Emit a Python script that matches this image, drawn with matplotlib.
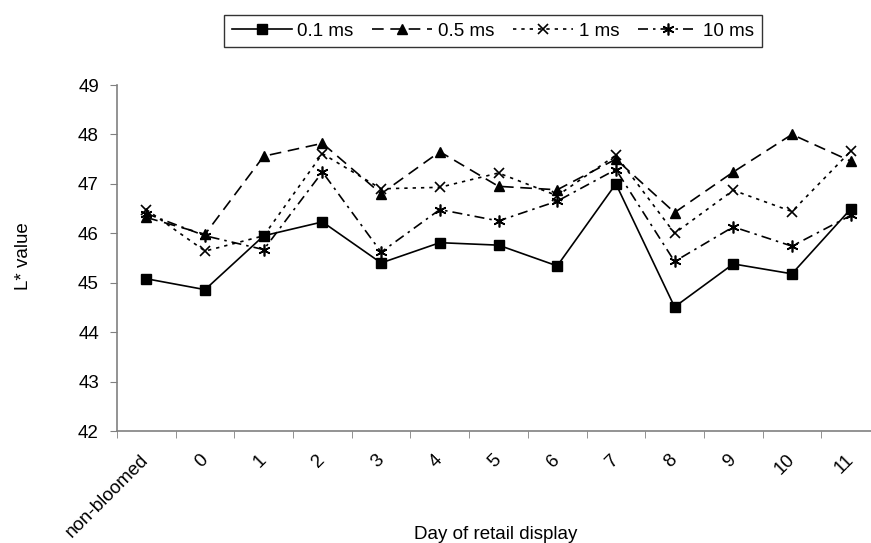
import numpy as np
import matplotlib.pyplot as plt
from matplotlib.transforms import ScaledTranslation

plt.rcParams['font.family'] = ['Liberation Sans', 'DejaVu Sans']

# categories on the x axis
days = ['non-bloomed', '0', '1', '2', '3', '4', '5', '6', '7', '8', '9', '10', '11']

# L* values
ms01 = [45.08, 44.86, 45.95, 46.23, 45.40, 45.81, 45.76, 45.34, 47.00, 44.51, 45.38, 45.18, 46.49]
ms05 = [46.32, 45.98, 47.56, 47.82, 46.80, 47.65, 46.95, 46.88, 47.50, 46.42, 47.24, 48.00, 47.46]
ms1 = [46.48, 45.64, 45.95, 47.61, 46.90, 46.93, 47.22, 46.76, 47.58, 46.00, 46.87, 46.44, 47.66]
ms10 = [46.40, 45.95, 45.67, 47.24, 45.62, 46.48, 46.25, 46.65, 47.29, 45.43, 46.13, 45.74, 46.36]

x = np.arange(len(days))
fs = 13.5

fig = plt.figure(figsize=(8.71, 5.43), dpi=100)
ax = fig.add_axes([117/871, 1 - 431/543, (880 - 117)/871, (431 - 85)/543])

lw = 1.2
ax.plot(x, ms01, color='black', lw=lw, ls='-', marker='s', ms=6.5, label='0.1 ms')
ax.plot(x, ms05, color='black', lw=lw, ls=(0, (7, 4)), marker='^', ms=7.5, label='0.5 ms')
ax.plot(x, ms1, color='black', lw=lw, ls=(0, (2, 3)), marker='x', ms=7.5, mew=1.2, label='1 ms')
ax.plot(x, ms10, color='black', lw=lw, ls=(0, (6, 3, 1.5, 3)), marker=(6, 2, 0), ms=8.5, mew=1.2, label='10 ms')

ax.set_xlim(-0.5, len(days) - 0.5)
ax.set_ylim(42, 49)
ax.set_yticks(np.arange(42, 50, 1))

ax.set_xticks(x)
ax.set_xticklabels(days, rotation=45, ha='right', va='center', rotation_mode='anchor', fontsize=fs)
shift = ScaledTranslation(-12/100, 0, fig.dpi_scale_trans)
for lab in ax.get_xticklabels():
    lab.set_transform(lab.get_transform() + shift)
ax.set_xticks(np.arange(-0.5, len(days), 1), minor=True)
ax.tick_params(axis='x', which='major', length=0, pad=19)
ax.tick_params(axis='x', which='minor', length=5, color='#808080', direction='out')
ax.tick_params(axis='y', length=5, color='#808080', direction='out', labelsize=fs, pad=8)

for s in ['top', 'right']:
    ax.spines[s].set_visible(False)
for s in ['left', 'bottom']:
    ax.spines[s].set_color('#808080')
    ax.spines[s].set_linewidth(1.2)

fig.text(23/871, 1 - 256/543, 'L* value', fontsize=fs, rotation=90, ha='center', va='center')
fig.text(496/871, 1 - 539/543, 'Day of retail display', fontsize=fs, ha='center', va='baseline')

leg = fig.legend(loc='center', bbox_to_anchor=(493/871, 1 - 31/543), ncol=4, fontsize=fs,
                 frameon=True, fancybox=False, handlelength=3.2, columnspacing=1.0,
                 handletextpad=0.3, borderpad=0.4)
leg.get_frame().set_edgecolor('black')
leg.get_frame().set_linewidth(1.0)

fig.savefig('out.png', dpi=100)
